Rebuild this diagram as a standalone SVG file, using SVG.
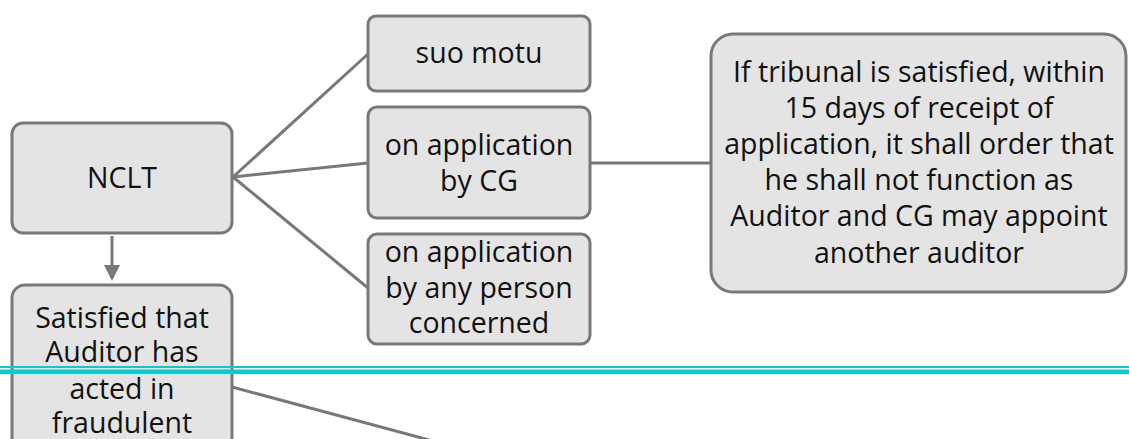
<svg xmlns="http://www.w3.org/2000/svg" width="1129" height="439" viewBox="0 0 1129 439">
<defs>
<style>
.box{fill:#e4e4e4;stroke:#787878;stroke-width:3}
.t{font-family:"Open Sans","Liberation Sans",sans-serif;font-size:28.5px;fill:#111;text-anchor:middle}
.c{stroke:#787878;stroke-width:3;fill:none}
.cy{fill:#00ced1}
</style>
</defs>
<rect width="1129" height="439" fill="#fff"/>
<g id="connectors">
<line class="c" x1="233" y1="177" x2="368" y2="54"/>
<line class="c" x1="233" y1="177" x2="368" y2="163"/>
<line class="c" x1="233" y1="177" x2="368" y2="288"/>
<line class="c" x1="590" y1="163" x2="711" y2="163"/>
<line class="c" x1="232" y1="387" x2="500" y2="459"/>
<line class="c" x1="112" y1="236" x2="112" y2="266"/>
<path d="M104,265 L120,265 L112,281 Z" fill="#787878"/>
</g>
<g id="nclt">
<rect class="box" x="12" y="123" width="220" height="110" rx="11"/>
<text class="t" x="122" y="188">NCLT</text>
</g>
<g id="satisfied">
<rect class="box" x="12" y="285" width="220" height="210" rx="13"/>
<text class="t" x="122" y="327.5">Satisfied that</text>
<text class="t" x="122" y="362">Auditor has</text>
<text class="t" x="122" y="398.5">acted in</text>
<text class="t" x="122" y="433">fraudulent</text>
</g>
<g id="suo-motu">
<rect class="box" x="368" y="16" width="222" height="75" rx="8"/>
<text class="t" x="479" y="63">suo motu</text>
</g>
<g id="by-cg">
<rect class="box" x="368" y="107" width="222" height="111" rx="9"/>
<text class="t" x="479" y="155">on application</text>
<text class="t" x="479" y="191">by CG</text>
</g>
<g id="by-any-person">
<rect class="box" x="368" y="234" width="222" height="110" rx="9"/>
<text class="t" x="479" y="262">on application</text>
<text class="t" x="479" y="298">by any person</text>
<text class="t" x="479" y="333">concerned</text>
</g>
<g id="tribunal">
<rect class="box" x="711" y="34" width="415" height="258" rx="22"/>
<text class="t" x="919" y="81.5">If tribunal is satisfied, within</text>
<text class="t" x="919" y="117.7">15 days of receipt of</text>
<text class="t" x="919" y="153.9">application, it shall order that</text>
<text class="t" x="919" y="190.1">he shall not function as</text>
<text class="t" x="919" y="226.3">Auditor and CG may appoint</text>
<text class="t" x="919" y="262.5">another auditor</text>
</g>
<g id="cyan-rule">
<rect class="cy" x="0" y="366" width="1129" height="2"/>
<rect class="cy" x="0" y="369.5" width="1129" height="4.5"/>
</g>
</svg>
